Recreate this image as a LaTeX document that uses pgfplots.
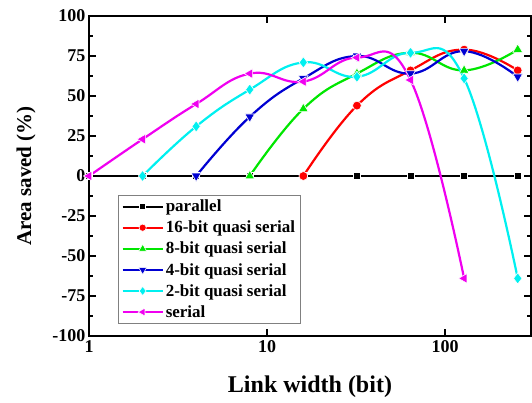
\documentclass[border=0pt]{standalone}
\usepackage{fontspec}
\setmainfont{Liberation Serif}
\usepackage{pgfplots}
\pgfplotsset{compat=1.18}
\definecolor{cgreen}{RGB}{0,230,0}
\definecolor{cblue}{RGB}{0,0,210}
\definecolor{ccyan}{RGB}{0,240,240}
\definecolor{cmag}{RGB}{240,0,240}
\begin{document}
\begin{tikzpicture}
\begin{axis}[
  name=ax,
  scale only axis, width=442pt, height=320pt,
  xmode=log, log basis x=10,
  xmin=1, xmax=304, ymin=-100, ymax=100,
  xtick={1,10,100}, xticklabels={\textbf{1},\textbf{10},\textbf{100}},
  ytick={-100,-75,-50,-25,0,25,50,75,100},
  yticklabels={\textbf{-100},\textbf{-75},\textbf{-50},\textbf{-25},\textbf{0},\textbf{25},\textbf{50},\textbf{75},\textbf{100}},
  minor ytick={-87.5,-62.5,-37.5,-12.5,12.5,37.5,62.5,87.5},
  tick align=inside, major tick length=7pt, minor tick length=4pt,
  tick style={line width=1.3pt, black},
  axis line style={line width=2pt},
  tick label style={font=\fontsize{18}{18}\selectfont},
  xticklabel style={yshift=-1pt},
  xlabel={\textbf{Link width (bit)}}, ylabel={\textbf{Area saved (\%)}},
  xlabel style={font=\fontsize{24}{24}\selectfont, yshift=-16pt},
  ylabel style={font=\fontsize{21}{21}\selectfont, yshift=10pt},
  legend style={at={(0.066,0.442)}, anchor=north west, draw=gray, line width=0.8pt,
    font=\fontsize{17}{19}\selectfont\bfseries, row sep=3.8pt, inner sep=3pt},
  legend cell align=left,
  legend image code/.code={%
    \draw[mark repeat=2,mark phase=2, every mark/.append style={scale=0.82}] plot coordinates {(0pt,0pt)(20pt,0pt)(40pt,0pt)};},
  every axis plot/.append style={line width=2.2pt, smooth, tension=0.75},
  clip=false,
]
\addplot[black, mark=square*, mark size=3.6pt, mark options={fill=black, draw=white, line width=0.6pt}] coordinates {(1,0)(2,0)(4,0)(8,0)(16,0)(32,0)(64,0)(128,0)(256,0)};
\addlegendentry{parallel}
\addplot[red, mark=*, mark size=4.4pt, mark options={fill=red, draw=white, line width=0.6pt}] coordinates {(16,0)(32,44)(64,66)(128,79)(256,66)};
\addlegendentry{16-bit quasi serial}
\addplot[cgreen, mark=triangle*, mark size=5.6pt, mark options={fill=cgreen, draw=white, line width=0.6pt}] coordinates {(8,0)(16,42)(32,64)(64,77)(128,66)(256,79)};
\addlegendentry{8-bit quasi serial}
\addplot[cblue, mark=triangle*, mark size=5.6pt, mark options={rotate=180, fill=cblue, draw=white, line width=0.6pt}] coordinates {(4,0)(8,37)(16,61)(32,75)(64,64)(128,78)(256,62)};
\addlegendentry{4-bit quasi serial}
\addplot[ccyan, mark=diamond*, mark size=5.6pt, mark options={fill=ccyan, draw=white, line width=0.6pt}] coordinates {(2,0)(4,31)(8,54)(16,71)(32,62)(64,77)(128,61)(256,-64)};
\addlegendentry{2-bit quasi serial}
\addplot[cmag, mark=triangle*, mark size=5.6pt, mark options={rotate=90, fill=cmag, draw=white, line width=0.6pt}] coordinates {(1,0)(2,23)(4,45)(8,64)(16,59)(32,74)(64,60)(128,-64)};
\addlegendentry{serial}
\end{axis}
\path ([xshift=-89pt,yshift=-67pt]ax.south west) rectangle ([xshift=1pt,yshift=16pt]ax.north east);
\end{tikzpicture}
\end{document}
